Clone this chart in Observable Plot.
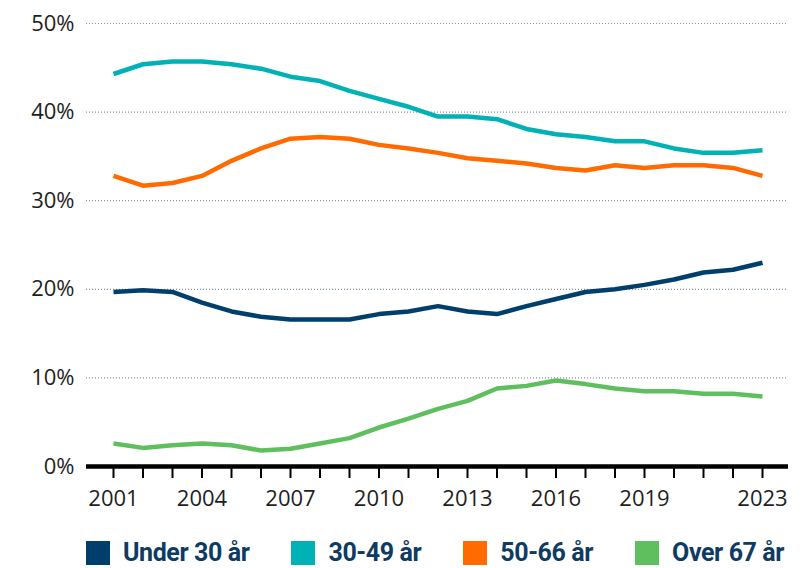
<!DOCTYPE html>
<html>
<head>
<meta charset="utf-8">
<script src="https://cdn.jsdelivr.net/npm/d3@7"></script>
<script src="https://cdn.jsdelivr.net/npm/@observablehq/plot@0.6"></script>
<style>
  body { margin: 0; background: #fff; font-family: "Open Sans", sans-serif; }
  #chart svg { display: block; }
  .legend { display: flex; gap: 42px; margin-left: 86px; margin-top: 11px; align-items: center; }
  .item { display: flex; align-items: center; gap: 13px; }
  .sw { width: 24px; height: 24px; }
  .lab { font-family: Roboto, sans-serif; font-weight: 700; font-size: 25px; color: #0d3b63; letter-spacing: -0.4px; line-height: 24px; }
</style>
</head>
<body>
<div id="chart"></div>
<script>
const years = [2001,2002,2003,2004,2005,2006,2007,2008,2009,2010,2011,2012,2013,2014,2015,2016,2017,2018,2019,2020,2021,2022,2023];
const under30 = [19.7,19.9,19.7,18.5,17.5,16.9,16.6,16.6,16.6,17.2,17.5,18.1,17.5,17.2,18.1,18.9,19.7,20.0,20.5,21.1,21.9,22.2,23.0];
const age30_49 = [44.3,45.4,45.7,45.7,45.4,44.9,44.0,43.5,42.4,41.5,40.6,39.5,39.5,39.2,38.1,37.5,37.2,36.7,36.7,35.9,35.4,35.4,35.7];
const age50_66 = [32.8,31.7,32.0,32.8,34.5,35.9,37.0,37.2,37.0,36.3,35.9,35.4,34.8,34.5,34.2,33.7,33.4,34.0,33.7,34.0,34.0,33.7,32.8];
const over67 = [2.6,2.1,2.4,2.6,2.4,1.8,2.0,2.6,3.2,4.4,5.4,6.5,7.4,8.8,9.1,9.7,9.3,8.8,8.5,8.5,8.2,8.2,7.9];
const seriesNames = ["Under 30 år","30-49 år","50-66 år","Over 67 år"];
const seriesColors = ["#003f6c","#00b1b5","#ff6b00","#5fbf5f"];
const yTicks = [0,10,20,30,40,50];
const xLabelYears = [2001,2004,2007,2010,2013,2016,2019,2023];

const seriesValues = [under30, age30_49, age50_66, over67];
const data = [];
seriesNames.forEach((name, i) => {
  years.forEach((yr, j) => data.push({series: name, year: yr, value: seriesValues[i][j]}));
});

const plot = Plot.plot({
  width: 802,
  height: 530,
  marginLeft: 86,
  marginRight: 14,
  marginTop: 23,
  marginBottom: 64,
  x: {domain: [2001, 2023], insetLeft: 27, insetRight: 26},
  y: {domain: [0, 50]},
  color: {domain: seriesNames, range: seriesColors},
  style: {fontFamily: "'Open Sans', sans-serif", fontSize: "22px", color: "#1e1e1e", background: "#fff"},
  marks: [
    Plot.gridY(yTicks.filter(d => d > 0), {stroke: "#7d95a8", strokeOpacity: 1, strokeWidth: 1.2, strokeDasharray: "1,2"}),
    Plot.axisY({ticks: yTicks, tickSize: 0, tickPadding: 12, tickFormat: d => d + "%", label: null, fontSize: 22}),
    Plot.axisX({ticks: years, tickSize: 12, tickFormat: () => "", label: null, stroke: "#000", strokeWidth: 2}),
    Plot.axisX({ticks: xLabelYears, tickSize: 0, tickPadding: 24, tickFormat: d => String(d), label: null, fontSize: 22}),
    Plot.line(data, {x: "year", y: "value", z: "series", stroke: "series", strokeWidth: 4.5, strokeLinejoin: "round", strokeLinecap: "butt"}),
    Plot.ruleY([0], {stroke: "#000", strokeWidth: 4.5})
  ]
});
document.getElementById("chart").appendChild(plot);

const legend = d3.select("#chart").append("div").attr("class", "legend");
seriesNames.forEach((name, i) => {
  const it = legend.append("div").attr("class", "item");
  it.append("div").attr("class", "sw").style("background", seriesColors[i]);
  it.append("div").attr("class", "lab").text(name);
});
</script>
</body>
</html>
